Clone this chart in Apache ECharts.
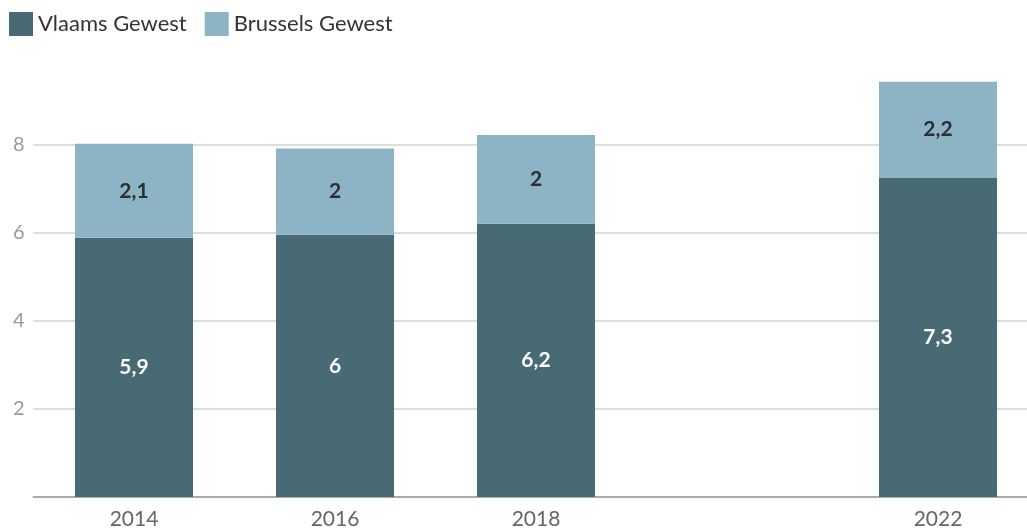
<!DOCTYPE html>
<html>
<head>
<meta charset="utf-8">
<script src="https://cdn.jsdelivr.net/npm/echarts@6/dist/echarts.min.js"></script>
<style>html,body{margin:0;padding:0;background:#fff}#c{width:1027px;height:531px}</style>
</head>
<body>
<div id="c"></div>
<script>
const categories = ['2014', '2016', '2018', '2020', '2022'];
const shownLabels = ['2014', '2016', '2018', '2022'];
const vlaams = [5.89, 5.96, 6.21, null, 7.26];
const brussels = [2.14, 1.96, 2.02, null, 2.18];
const yTicks = [2, 4, 6, 8];

const fmt = v => {
  const s = (Math.round(v * 10) / 10).toFixed(1);
  return (s.endsWith('.0') ? s.slice(0, -2) : s).replace('.', ',');
};

const chart = echarts.init(document.getElementById('c'), null, {renderer: 'canvas'});
chart.setOption({
  animation: false,
  textStyle: {fontFamily: 'Lato'},
  legend: {
    left: 9, top: 12, padding: 0, itemWidth: 24, itemHeight: 24, itemGap: 18,
    icon: 'rect',
    textStyle: {fontSize: 22, color: '#333', fontFamily: 'Lato'},
    data: ['Vlaams Gewest', 'Brussels Gewest']
  },
  grid: {left: 33.5, width: 1005, top: 79, bottom: 34, containLabel: false, outerBoundsMode: 'none'},
  xAxis: {
    type: 'category',
    data: categories,
    axisTick: {show: false},
    axisLine: {lineStyle: {color: '#aaa', width: 2}},
    axisLabel: {
      fontSize: 21, color: '#666', fontFamily: 'Lato', margin: 12,
      formatter: v => shownLabels.includes(v) ? v : ''
    }
  },
  yAxis: {
    type: 'value', min: 0, max: 9.5, interval: 2,
    axisLine: {show: false}, axisTick: {show: false},
    splitLine: {lineStyle: {color: ['#ddd', '#ddd', '#ddd', '#ddd', '#ddd', 'rgba(0,0,0,0)'], width: 2}},
    axisLabel: {
      fontSize: 20, color: '#999', fontFamily: 'Lato', margin: 9,
      formatter: v => yTicks.includes(v) ? String(v) : ''
    }
  },
  series: [
    {
      name: 'Vlaams Gewest', type: 'bar', stack: 't', barWidth: 118,
      data: vlaams,
      itemStyle: {color: '#486a75'},
      label: {show: true, position: 'inside', color: '#fff', fontSize: 21, fontWeight: 'bold', fontFamily: 'Lato',
        formatter: p => fmt(p.value)}
    },
    {
      name: 'Brussels Gewest', type: 'bar', stack: 't', barWidth: 118,
      data: brussels,
      itemStyle: {color: '#8db4c4'},
      label: {show: true, position: 'inside', color: '#2b2f33', fontSize: 21, fontWeight: 'bold', fontFamily: 'Lato',
        formatter: p => fmt(p.value)}
    }
  ]
});
</script>
</body>
</html>
